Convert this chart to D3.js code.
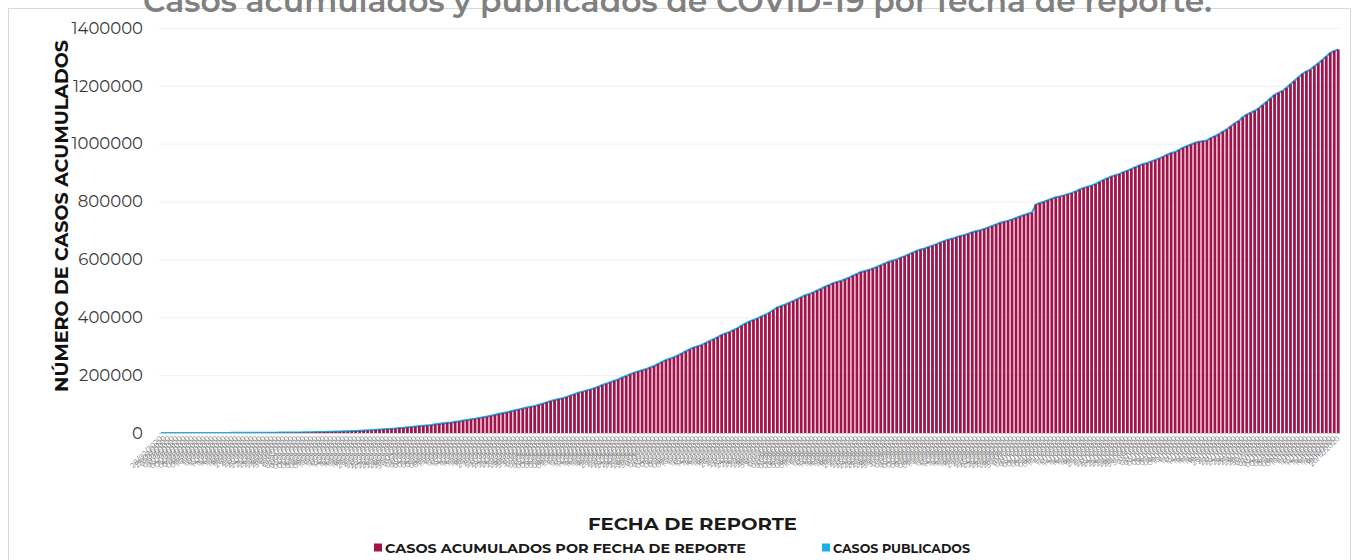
<!DOCTYPE html>
<html>
<head>
<meta charset="utf-8">
<script src="https://cdn.jsdelivr.net/npm/d3@7"></script>
<style>
  body { margin: 0; background: #fff; }
  svg { display: block; font-family: "Montserrat", "Noto Sans", sans-serif; }
</style>
</head>
<body>
<svg id="chart" width="1352" height="560"></svg>
<script>
// dias de reporte: 28/02/2020 -> 20/12/2020
var fechas = d3.timeDay.range(new Date(2020, 1, 28), new Date(2020, 11, 21));

var casosAcumulados = [
  2, 4,
  5, 5, 5, 5, 5, 6, 7, 7, 7, 7, 11, 12, 26, 41, 53, 82, 93, 118, 164, 203, 251, 316, 367, 405, 475, 585, 717, 848, 993, 1094, 1215,
  1378, 1510, 1688, 1890, 2143, 2439, 2785, 3181, 3441, 3844, 4219, 4661, 5014, 5399, 5847, 6297, 6875, 7497, 8261, 8772, 9501, 10544, 11633, 12872, 13842, 14677, 15529, 16752, 17799, 19224,
  20739, 22088, 23471, 24905, 26025, 27634, 29616, 31522, 33460, 35022, 36327, 38324, 40186, 42595, 45032, 47144, 49219, 51633, 54346, 56594, 59567, 62527, 65856, 68620, 71105, 74560, 78023, 81400, 84627, 87512, 90664,
  93435, 97326, 101238, 105680, 110026, 113619, 117103, 120102, 124301, 129184, 133974, 139196, 142690, 146837, 150264, 154863, 159793, 165455, 170485, 175202, 180545, 185122, 191410, 196847, 202951, 208392, 212802, 216852, 220657, 226089,
  231770, 238511, 245251, 252165, 256848, 261750, 268008, 275003, 282283, 289174, 295268, 299750, 304435, 311486, 317635, 324041, 331298, 338913, 344224, 349396, 356255, 362274, 370712, 378285, 385036, 390516, 395489, 402697, 408449, 416179, 424637,
  434193, 439046, 443813, 449961, 456100, 462690, 469407, 475902, 480278, 485836, 492522, 498380, 505751, 511369, 517714, 522162, 525733, 531239, 537031, 543806, 549734, 556216, 560164, 563705, 568621, 573888, 579914, 585738, 591712, 595841, 599560,
  606036, 610957, 616894, 623090, 629409, 634023, 637509, 642860, 647507, 652364, 658299, 663973, 668381, 671716, 676487, 680931, 684113, 688954, 694121, 697663, 700580, 705263, 710049, 715457, 720858, 726431, 730317, 733717, 738163, 743216,
  748315, 753090, 757953, 761665, 789780, 794608, 799188, 804488, 809751, 814328, 817503, 821045, 825340, 829396, 834910, 841661, 847108, 851227, 854926, 860714, 867559, 874171, 880775, 886800, 891160, 895326, 901268, 906863, 912811, 918811, 924962,
  929392, 933155, 938405, 943630, 949197, 955128, 961938, 967825, 971116, 978531, 986177, 991835, 997393, 1003253, 1006522, 1009396, 1011153, 1019543, 1025969, 1032688, 1041875, 1049358, 1060152, 1070487, 1078594, 1090675, 1100683, 1107071, 1113543, 1122362,
  1133613, 1144643, 1156770, 1168395, 1175850, 1182249, 1193255, 1205229, 1217126, 1229379, 1241436, 1250044, 1255974, 1267202, 1277499, 1289298, 1301546, 1313675, 1320545, 1325915
];

var casosPublicados = [
  2, 4,
  5, 5, 5, 5, 5, 6, 7, 7, 7, 7, 11, 12, 26, 41, 53, 82, 93, 118, 164, 203, 251, 316, 367, 405, 475, 585, 717, 848, 993, 1094, 1215,
  1378, 1510, 1688, 1890, 2143, 2439, 2785, 3181, 3441, 3844, 4219, 4661, 5014, 5399, 5847, 6297, 6875, 7497, 8261, 8772, 9501, 10544, 11633, 12872, 13842, 14677, 15529, 16752, 17799, 19224,
  20739, 22088, 23471, 24905, 26025, 27634, 29616, 31522, 33460, 35022, 36327, 38324, 40186, 42595, 45032, 47144, 49219, 51633, 54346, 56594, 59567, 62527, 65856, 68620, 71105, 74560, 78023, 81400, 84627, 87512, 90664,
  93435, 97326, 101238, 105680, 110026, 113619, 117103, 120102, 124301, 129184, 133974, 139196, 142690, 146837, 150264, 154863, 159793, 165455, 170485, 175202, 180545, 185122, 191410, 196847, 202951, 208392, 212802, 216852, 220657, 226089,
  231770, 238511, 245251, 252165, 256848, 261750, 268008, 275003, 282283, 289174, 295268, 299750, 304435, 311486, 317635, 324041, 331298, 338913, 344224, 349396, 356255, 362274, 370712, 378285, 385036, 390516, 395489, 402697, 408449, 416179, 424637,
  434193, 439046, 443813, 449961, 456100, 462690, 469407, 475902, 480278, 485836, 492522, 498380, 505751, 511369, 517714, 522162, 525733, 531239, 537031, 543806, 549734, 556216, 560164, 563705, 568621, 573888, 579914, 585738, 591712, 595841, 599560,
  606036, 610957, 616894, 623090, 629409, 634023, 637509, 642860, 647507, 652364, 658299, 663973, 668381, 671716, 676487, 680931, 684113, 688954, 694121, 697663, 700580, 705263, 710049, 715457, 720858, 726431, 730317, 733717, 738163, 743216,
  748315, 753090, 757953, 761665, 789780, 794608, 799188, 804488, 809751, 814328, 817503, 821045, 825340, 829396, 834910, 841661, 847108, 851227, 854926, 860714, 867559, 874171, 880775, 886800, 891160, 895326, 901268, 906863, 912811, 918811, 924962,
  929392, 933155, 938405, 943630, 949197, 955128, 961938, 967825, 971116, 978531, 986177, 991835, 997393, 1003253, 1006522, 1009396, 1011153, 1019543, 1025969, 1032688, 1041875, 1049358, 1060152, 1070487, 1078594, 1090675, 1100683, 1107071, 1113543, 1122362,
  1133613, 1144643, 1156770, 1168395, 1175850, 1182249, 1193255, 1205229, 1217126, 1229379, 1241436, 1250044, 1255974, 1267202, 1277499, 1289298, 1301546, 1313675, 1320545, 1325915
];

var yTicks = [0, 200000, 400000, 600000, 800000, 1000000, 1200000, 1400000];
var titulo = "Casos acumulados y publicados de COVID-19 por fecha de reporte.";
var tituloY = "NÚMERO DE CASOS ACUMULADOS";
var tituloX = "FECHA DE REPORTE";
var leyenda = ["CASOS ACUMULADOS POR FECHA DE REPORTE", "CASOS PUBLICADOS"];

var colorAcum = "#a3144a";
var colorPub = "#19b0ea";

function dibujar() {
  var fmtFecha = d3.timeFormat("%d/%m/%Y");
  var data = fechas.map(function(d, i) {
    return {fecha: fmtFecha(d), acum: casosAcumulados[i], pub: casosPublicados[i]};
  });

  var svg = d3.select("#chart");
  var pLeft = 159, pRight = 1340, pTop = 28, pBottom = 433;

  // marco del grafico
  svg.append("rect")
    .attr("x", 8.5).attr("y", 8.5)
    .attr("width", 1342).attr("height", 570)
    .attr("fill", "none").attr("stroke", "#d9d9d9");

  var x = d3.scaleBand()
    .domain(data.map(function(d) { return d.fecha; }))
    .range([pLeft, pRight])
    .paddingInner(0.3).paddingOuter(0.1);

  var y = d3.scaleLinear().domain([0, 1400000]).range([pBottom, pTop]);

  // eje y + rejilla
  var yAxis = svg.append("g")
    .attr("transform", "translate(" + pLeft + ",0)")
    .call(d3.axisLeft(y).tickValues(yTicks).tickFormat(d3.format("d"))
      .tickSizeInner(-(pRight - pLeft)).tickSizeOuter(0).tickPadding(16));
  yAxis.attr("font-family", null).attr("font-size", null);
  yAxis.select(".domain").remove();
  yAxis.selectAll("line").attr("stroke", "#f0f0f0");
  yAxis.selectAll("text").attr("fill", "#3a3a3a").style("font-size", "16.5px");

  // serie publicada (linea debajo de las barras)
  var line = d3.line()
    .x(function(d) { return x(d.fecha) + x.bandwidth() / 2; })
    .y(function(d) { return y(d.pub); });

  svg.append("path")
    .datum(data)
    .attr("d", line)
    .attr("fill", "none")
    .attr("stroke", colorPub)
    .attr("stroke-width", 2.2);

  svg.selectAll(".bar")
    .data(data)
    .enter().append("rect")
    .attr("class", "bar")
    .attr("x", function(d) { return x(d.fecha); })
    .attr("width", x.bandwidth())
    .attr("y", function(d) { return y(d.acum); })
    .attr("height", function(d) { return pBottom - y(d.acum); })
    .attr("fill", colorAcum);

  // eje x
  var xAxis = svg.append("g")
    .attr("transform", "translate(0," + pBottom + ")")
    .call(d3.axisBottom(x).tickSize(0).tickPadding(0));
  xAxis.attr("font-family", null).attr("font-size", null);
  xAxis.select(".domain").attr("stroke", "#d0d0d0").attr("d", "M" + pLeft + ",0.5H" + pRight);
  xAxis.selectAll("text")
    .attr("fill", "#7a7a7a")
    .style("font-size", "7.5px")
    .attr("text-anchor", "end")
    .attr("dy", null)
    .attr("y", 0)
    .attr("transform", "translate(2,6) rotate(-45)");

  // titulos
  svg.append("text")
    .attr("x", 143).attr("y", 12)
    .attr("textLength", 1069).attr("lengthAdjust", "spacingAndGlyphs")
    .attr("fill", "#808080")
    .style("font-size", "31px").style("font-weight", "600")
    .text(titulo);

  svg.append("text")
    .attr("transform", "translate(68,216) rotate(-90)")
    .attr("text-anchor", "middle")
    .attr("textLength", 352).attr("lengthAdjust", "spacingAndGlyphs")
    .attr("fill", "#111")
    .style("font-size", "18px").style("font-weight", "bold")
    .text(tituloY);

  svg.append("text")
    .attr("x", 588).attr("y", 530)
    .attr("textLength", 209).attr("lengthAdjust", "spacingAndGlyphs")
    .attr("fill", "#1a1a1a")
    .style("font-size", "17px").style("font-weight", "bold")
    .text(tituloX);

  // leyenda
  var ley = [
    {texto: leyenda[0], color: colorAcum, x: 374, w: 361},
    {texto: leyenda[1], color: colorPub, x: 822, w: 137}
  ];
  var items = svg.selectAll(".ley").data(ley).enter().append("g")
    .attr("class", "ley")
    .attr("transform", function(d) { return "translate(" + d.x + ",548)"; });
  items.append("rect")
    .attr("x", 0).attr("y", -4.5).attr("width", 8).attr("height", 8)
    .attr("fill", function(d) { return d.color; });
  items.append("text")
    .attr("x", 11).attr("y", 5)
    .attr("textLength", function(d) { return d.w; }).attr("lengthAdjust", "spacingAndGlyphs")
    .attr("fill", "#1a1a1a")
    .style("font-size", "13px").style("font-weight", "bold")
    .text(function(d) { return d.texto; });
}

dibujar();
</script>
</body>
</html>
